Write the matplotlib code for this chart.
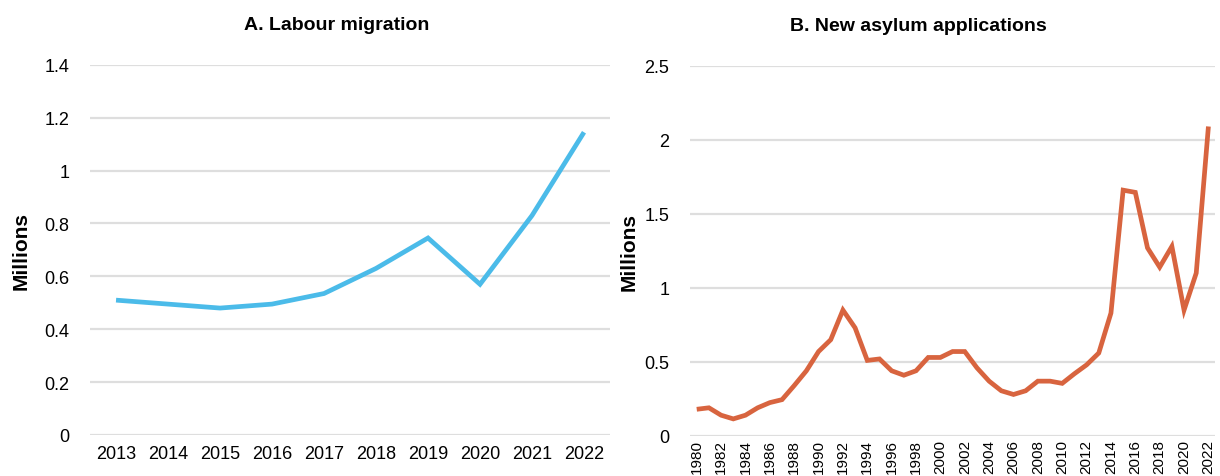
import matplotlib
matplotlib.use("Agg")
import matplotlib.pyplot as plt

# ==========================================
# DATA
# ==========================================

labour_years = ["2013", "2014", "2015", "2016", "2017",
                "2018", "2019", "2020", "2021", "2022"]
labour_values = [0.51, 0.495, 0.48, 0.495, 0.535,
                 0.63, 0.745, 0.57, 0.83, 1.145]

asylum_years = list(range(1980, 2023))
asylum_values = [0.18, 0.19, 0.14, 0.115, 0.14, 0.19, 0.225, 0.245, 0.34, 0.44,
                 0.57, 0.65, 0.85, 0.73, 0.51, 0.52, 0.44, 0.41, 0.44, 0.53,
                 0.53, 0.57, 0.57, 0.46, 0.37, 0.305, 0.28, 0.305, 0.37, 0.37,
                 0.355, 0.42, 0.48, 0.56, 0.83, 1.66, 1.645, 1.27, 1.14, 1.28,
                 0.85, 1.10, 2.09]

BLUE = "#4bbbe9"
ORANGE = "#d8643f"
GRID = "#dedede"

plt.rcParams["font.family"] = ["Liberation Sans", "DejaVu Sans"]

fig = plt.figure(figsize=(12.2, 4.77), dpi=100)

ax1 = fig.add_axes([0.0738, 0.086, 0.4262, 0.776])
ax2 = fig.add_axes([0.5656, 0.084, 0.4304, 0.776])


def style(ax):
    for s in ax.spines.values():
        s.set_visible(False)
    ax.grid(axis="y", color=GRID, linewidth=1.6)
    ax.set_axisbelow(True)
    ax.tick_params(length=0, labelsize=13, colors="#000000")
    ax.tick_params(axis="y", pad=15)


# ==========================================
# PANEL A
# ==========================================

ax1.plot(range(len(labour_years)), labour_values, color=BLUE, linewidth=3.4,
         solid_capstyle="butt", solid_joinstyle="miter")
ax1.set_xlim(-0.5, len(labour_years) - 0.5)
ax1.set_ylim(0, 1.4)
ax1.set_yticks([0, 0.2, 0.4, 0.6, 0.8, 1.0, 1.2, 1.4])
ax1.set_yticklabels(["0", "0.2", "0.4", "0.6", "0.8", "1", "1.2", "1.4"])
ax1.set_xticks(range(len(labour_years)))
ax1.set_xticklabels(labour_years)
style(ax1)
ax1.tick_params(axis="x", pad=7)
ax1.set_title("A. Labour migration", fontsize=14, fontweight="bold",
              pad=26, x=0.475)
ax1.set_ylabel("Millions", fontsize=15, fontweight="bold", labelpad=10)

# ==========================================
# PANEL B
# ==========================================

ax2.plot(asylum_years, asylum_values, color=ORANGE, linewidth=3.4,
         solid_capstyle="butt", solid_joinstyle="miter")
ax2.set_xlim(1979.45, 2022.55)
ax2.set_ylim(0, 2.5)
ax2.set_yticks([0, 0.5, 1.0, 1.5, 2.0, 2.5])
ax2.set_yticklabels(["0", "0.5", "1", "1.5", "2", "2.5"])
ax2.set_xticks(asylum_years[::2])
ax2.set_xticklabels([str(y) for y in asylum_years[::2]], rotation=90)
style(ax2)
ax2.tick_params(axis="x", pad=2, labelsize=11)
ax2.set_title("B. New asylum applications", fontsize=14, fontweight="bold",
              pad=26, x=0.434)
ax2.set_ylabel("Millions", fontsize=15, fontweight="bold", labelpad=4)

fig.savefig("out.png", dpi=100)
